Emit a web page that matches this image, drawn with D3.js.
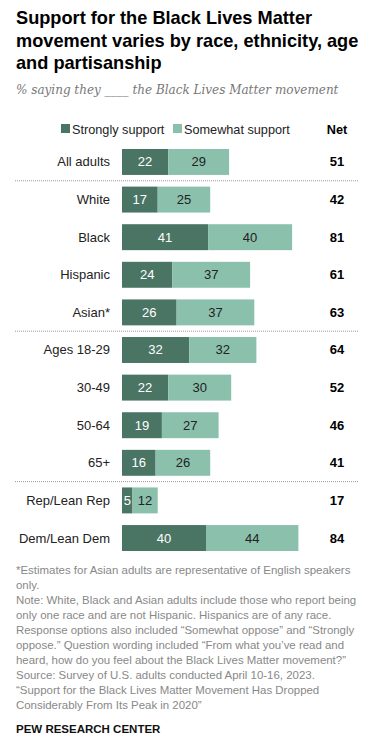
<!DOCTYPE html>
<html>
<head>
<meta charset="utf-8">
<script src="https://cdn.jsdelivr.net/npm/d3@7"></script>
<style>
  body { margin: 0; background: #fff; }
  svg { display: block; }
</style>
</head>
<body>
<div id="chart"></div>
<script>
// Support for BLM by group: strongly + somewhat = net

const groups = ["All adults", "White", "Black", "Hispanic", "Asian*", "Ages 18-29", "30-49", "50-64", "65+", "Rep/Lean Rep", "Dem/Lean Dem"];
const strongly = [22, 17, 41, 24, 26, 32, 22, 19, 16, 5, 40];
const somewhat = [29, 25, 40, 37, 37, 32, 30, 27, 26, 12, 44];
const net = [51, 42, 81, 61, 63, 64, 52, 46, 41, 17, 84];
const dividersAfter = [0, 4, 8];

const titleLines = ["Support for the Black Lives Matter", "movement varies by race, ethnicity, age", "and partisanship"];
const noteLines = [
    "*Estimates for Asian adults are representative of English speakers",
    "only.",
    "Note: White, Black and Asian adults include those who report being",
    "only one race and are not Hispanic. Hispanics are of any race.",
    "Response options also included \u201cSomewhat oppose\u201d and \u201cStrongly",
    "oppose.\u201d Question wording included \u201cFrom what you\u2019ve read and",
    "heard, how do you feel about the Black Lives Matter movement?\u201d",
    "Source: Survey of U.S. adults conducted April 10-16, 2023.",
    "\u201cSupport for the Black Lives Matter Movement Has Dropped",
    "Considerably From Its Peak in 2020\u201d"
];

const width = 387;
const height = 750;
const darkColor = "#4a7565";
const lightColor = "#8bc0ad";
const sans = "'Liberation Sans', Arial, sans-serif";

const svg = d3.select("#chart")
    .append("svg")
    .attr("width", width)
    .attr("height", height);

// title
svg.append("g").selectAll("text")
    .data(titleLines)
    .enter().append("text")
    .attr("x", 16)
    .attr("y", (d, i) => 24 + i * 22.5)
    .attr("font-family", sans)
    .attr("font-weight", "bold")
    .attr("font-size", "18.2px")
    .attr("fill", "#000")
    .text(d => d);

svg.append("text")
    .attr("x", 16)
    .attr("y", 94)
    .attr("font-family", "'DejaVu Serif', Georgia, serif")
    .attr("font-style", "italic")
    .attr("font-size", "12px")
    .attr("fill", "#777")
    .text("% saying they ____ the Black Lives Matter movement");

// legend
const legend = svg.append("g").attr("font-family", sans).attr("font-size", "12.7px").attr("fill", "#222");
legend.append("rect").attr("x", 61).attr("y", 124).attr("width", 9).attr("height", 9).attr("fill", darkColor);
legend.append("text").attr("x", 72).attr("y", 133.5).text("Strongly support");
legend.append("rect").attr("x", 173).attr("y", 124).attr("width", 9).attr("height", 9).attr("fill", lightColor);
legend.append("text").attr("x", 184).attr("y", 133.5).text("Somewhat support");
legend.append("text").attr("x", 337).attr("y", 133.5).attr("text-anchor", "middle")
    .attr("font-weight", "bold").attr("fill", "#000").text("Net");

// scales
const x = d3.scaleLinear().domain([0, 100]).range([122, 332]);
const y = d3.scaleBand().domain(groups).range([149, 551]).paddingInner(0.31).paddingOuter(0);

const rows = groups.map((g, i) => ({ group: g, strong: strongly[i], some: somewhat[i], net: net[i] }));

const row = svg.append("g").selectAll("g")
    .data(rows)
    .enter().append("g")
    .attr("transform", d => `translate(0,${y(d.group)})`);

row.append("rect")
    .attr("x", x(0))
    .attr("width", d => x(d.strong) - x(0))
    .attr("height", y.bandwidth())
    .attr("fill", darkColor);

row.append("rect")
    .attr("x", d => x(d.strong))
    .attr("width", d => x(d.strong + d.some) - x(d.strong))
    .attr("height", y.bandwidth())
    .attr("fill", lightColor);

row.append("text")
    .attr("x", 110)
    .attr("y", y.bandwidth() / 2 + 4.5)
    .attr("text-anchor", "end")
    .attr("font-family", sans)
    .attr("font-size", "13px")
    .attr("fill", "#222")
    .text(d => d.group);

row.append("text")
    .attr("x", d => (x(0) + x(d.strong)) / 2)
    .attr("y", y.bandwidth() / 2 + 4.5)
    .attr("text-anchor", "middle")
    .attr("font-family", sans)
    .attr("font-size", "13px")
    .attr("fill", "#fff")
    .text(d => d.strong);

row.append("text")
    .attr("x", d => (x(d.strong) + x(d.strong + d.some)) / 2)
    .attr("y", y.bandwidth() / 2 + 4.5)
    .attr("text-anchor", "middle")
    .attr("font-family", sans)
    .attr("font-size", "13px")
    .attr("fill", "#222")
    .text(d => d.some);

row.append("text")
    .attr("x", 337)
    .attr("y", y.bandwidth() / 2 + 4.5)
    .attr("text-anchor", "middle")
    .attr("font-family", sans)
    .attr("font-weight", "bold")
    .attr("font-size", "13px")
    .attr("fill", "#000")
    .text(d => d.net);

// dotted dividers between groups
const gap = y.step() - y.bandwidth();
svg.append("g").selectAll("line")
    .data(dividersAfter)
    .enter().append("line")
    .attr("x1", 15)
    .attr("x2", 359)
    .attr("y1", i => y(groups[i]) + y.bandwidth() + gap / 2)
    .attr("y2", i => y(groups[i]) + y.bandwidth() + gap / 2)
    .attr("stroke", "#999")
    .attr("stroke-width", 1)
    .attr("stroke-dasharray", "1,1");

// notes
svg.append("g").selectAll("text")
    .data(noteLines)
    .enter().append("text")
    .attr("x", 16)
    .attr("y", (d, i) => 574 + i * 15)
    .attr("font-family", sans)
    .attr("font-size", "11.45px")
    .attr("fill", "#888")
    .text(d => d);

svg.append("text")
    .attr("x", 16)
    .attr("y", 733)
    .attr("font-family", sans)
    .attr("font-weight", "bold")
    .attr("font-size", "11.5px")
    .attr("fill", "#111")
    .text("PEW RESEARCH CENTER");
</script>
</body>
</html>
